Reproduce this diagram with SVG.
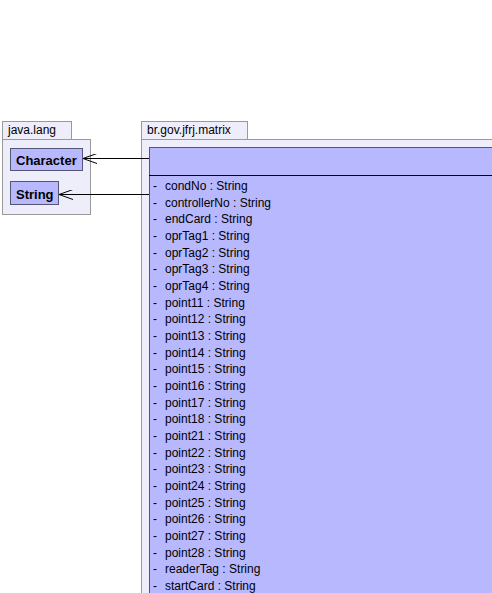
<svg xmlns="http://www.w3.org/2000/svg" width="492" height="593" viewBox="0 0 492 593">
<defs>
<marker id="open" viewBox="0 0 14 10" refX="14" refY="5" markerWidth="14" markerHeight="10" markerUnits="userSpaceOnUse" orient="auto">
<path d="M0,0 L14,5 L0,10" fill="none" stroke="#000" stroke-width="1"/>
</marker>
<style>
.pkg{fill:#EEEEFA;stroke:#999999;stroke-width:1}
.cls{fill:#B8B8FF;stroke:#555577;stroke-width:1}
.t{font-family:"Liberation Sans",Arial,sans-serif;font-size:12px;fill:#000}
.b{font-weight:bold;font-size:13px}
.con{stroke:#000;stroke-width:1;fill:none}
</style>
</defs>
<rect width="492" height="593" fill="#fff"/>
<g id="pkg-java-lang">
<rect class="pkg" x="2.5" y="121.5" width="69" height="18"/>
<rect class="pkg" x="2.5" y="139.5" width="88" height="75"/>
<text class="t" x="8" y="134">java.lang</text>
</g>
<g id="pkg-matrix">
<rect class="pkg" x="141.5" y="121.5" width="106" height="18"/>
<rect class="pkg" x="141.5" y="139.5" width="360" height="470"/>
<text class="t" x="147" y="134">br.gov.jfrj.matrix</text>
</g>
<g id="Character">
<rect class="cls" x="10.5" y="148.5" width="72" height="22"/>
<text class="t b" x="16" y="165">Character</text>
</g>
<g id="String">
<rect class="cls" x="10.5" y="181.5" width="48" height="23"/>
<text class="t b" x="16" y="199">String</text>
</g>
<g id="MatrixClass">
<rect class="cls" x="149.5" y="147.5" width="360" height="460"/>
<line x1="149" y1="175.5" x2="492" y2="175.5" stroke="#000" stroke-width="1"/>
<g class="t" transform="translate(0,-1)">
<text x="153" y="191">-</text><text x="165" y="191">condNo : String</text>
<text x="153" y="207.7">-</text><text x="165" y="207.7">controllerNo : String</text>
<text x="153" y="224.3">-</text><text x="165" y="224.3">endCard : String</text>
<text x="153" y="241">-</text><text x="165" y="241">oprTag1 : String</text>
<text x="153" y="257.7">-</text><text x="165" y="257.7">oprTag2 : String</text>
<text x="153" y="274.3">-</text><text x="165" y="274.3">oprTag3 : String</text>
<text x="153" y="291">-</text><text x="165" y="291">oprTag4 : String</text>
<text x="153" y="307.7">-</text><text x="165" y="307.7">point11 : String</text>
<text x="153" y="324.3">-</text><text x="165" y="324.3">point12 : String</text>
<text x="153" y="341">-</text><text x="165" y="341">point13 : String</text>
<text x="153" y="357.7">-</text><text x="165" y="357.7">point14 : String</text>
<text x="153" y="374.3">-</text><text x="165" y="374.3">point15 : String</text>
<text x="153" y="391">-</text><text x="165" y="391">point16 : String</text>
<text x="153" y="407.7">-</text><text x="165" y="407.7">point17 : String</text>
<text x="153" y="424.3">-</text><text x="165" y="424.3">point18 : String</text>
<text x="153" y="441">-</text><text x="165" y="441">point21 : String</text>
<text x="153" y="457.7">-</text><text x="165" y="457.7">point22 : String</text>
<text x="153" y="474.3">-</text><text x="165" y="474.3">point23 : String</text>
<text x="153" y="491">-</text><text x="165" y="491">point24 : String</text>
<text x="153" y="507.7">-</text><text x="165" y="507.7">point25 : String</text>
<text x="153" y="524.3">-</text><text x="165" y="524.3">point26 : String</text>
<text x="153" y="541">-</text><text x="165" y="541">point27 : String</text>
<text x="153" y="557.7">-</text><text x="165" y="557.7">point28 : String</text>
<text x="153" y="574.3">-</text><text x="165" y="574.3">readerTag : String</text>
<text x="153" y="591">-</text><text x="165" y="591">startCard : String</text>
</g>
</g>
<g id="connectors">
<line class="con" x1="149" y1="158.5" x2="83" y2="158.5" marker-end="url(#open)"/>
<line class="con" x1="149" y1="194.5" x2="59" y2="194.5" marker-end="url(#open)"/>
</g>
</svg>
